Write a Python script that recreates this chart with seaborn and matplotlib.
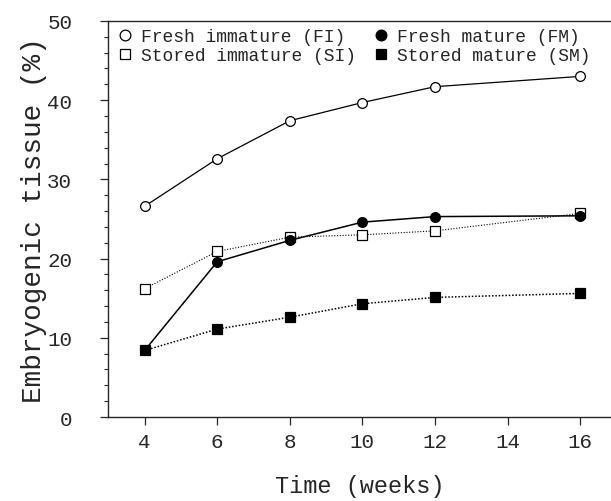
import pandas as pd
import numpy as np
import matplotlib.pyplot as plt
import seaborn as sns
from matplotlib.ticker import MultipleLocator

# values
weeks = [4, 6, 8, 10, 12, 16]
fresh_immature = [26.6, 32.6, 37.4, 39.7, 41.7, 43.0]
fresh_mature = [8.4, 19.6, 22.3, 24.6, 25.3, 25.4]
stored_immature = [16.2, 20.9, 22.7, 23.0, 23.5, 25.7]
stored_mature = [8.4, 11.1, 12.6, 14.3, 15.1, 15.6]

labels = ["Fresh immature (FI)", "Stored immature (SI)",
          "Fresh mature (FM)", "Stored mature (SM)"]
series = [fresh_immature, stored_immature, fresh_mature, stored_mature]

df = pd.concat([pd.DataFrame({"week": weeks, "value": v, "group": lab})
                for lab, v in zip(labels, series)], ignore_index=True)

sns.set_style("ticks")
plt.rcParams["font.family"] = ["Liberation Mono", "DejaVu Sans Mono"]

fig = plt.figure(figsize=(6.11, 5.02), dpi=100)
ax = fig.add_axes([0.1773, 0.1673, 0.8227, 0.789])

styles = {
    "Fresh immature (FI)": dict(marker="o", markerfacecolor="white", linestyle="-", linewidth=0.9),
    "Stored immature (SI)": dict(marker="s", markerfacecolor="white", linestyle=(0, (1, 1.5)), linewidth=0.8),
    "Fresh mature (FM)": dict(marker="o", markerfacecolor="black", linestyle="-", linewidth=1.1),
    "Stored mature (SM)": dict(marker="s", markerfacecolor="black", linestyle=(0, (1, 1.2)), linewidth=1.1),
}

for lab in labels:
    sub = df[df["group"] == lab]
    sns.lineplot(data=sub, x="week", y="value", ax=ax, color="black",
                 markersize=7, markeredgecolor="black", markeredgewidth=0.9,
                 label=lab, **styles[lab])

ax.set_xlim(3, 16.85)
ax.set_ylim(0, 50)
ax.set_xticks([4, 6, 8, 10, 12, 14, 16])
ax.yaxis.set_major_locator(MultipleLocator(10))
ax.yaxis.set_minor_locator(MultipleLocator(2))
ax.tick_params(axis="y", which="major", length=6, width=0.9, pad=20, labelsize=15)
ax.tick_params(axis="y", which="minor", length=3, width=0.8)
ax.tick_params(axis="x", which="major", length=6, width=0.9, pad=5, labelsize=15)
ax.spines["right"].set_visible(False)
for s in ["left", "bottom", "top"]:
    ax.spines[s].set_linewidth(1.0)

ax.set_xlabel("Time (weeks)", fontsize=17, labelpad=16)
ax.set_ylabel("Embryogenic tissue (%)", fontsize=20, labelpad=0)

handles, labs = ax.get_legend_handles_labels()
leg = ax.legend(handles, labs, ncol=2, loc="upper left", bbox_to_anchor=(0.0, 1.0),
                frameon=False, fontsize=13, handlelength=1.0, handletextpad=0.4,
                columnspacing=0.9, labelspacing=0.1, borderaxespad=0.2,
                borderpad=0.2, markerscale=1.1)
for h in leg.legend_handles:
    h.set_linestyle("none")

fig.savefig("out.png", dpi=100)
